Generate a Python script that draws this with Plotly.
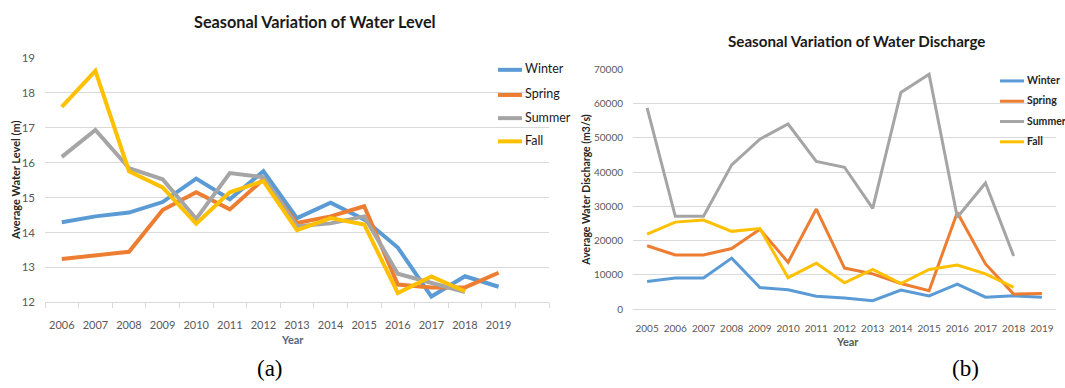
import plotly.graph_objects as go

# ---- Water level (m), by season ----
level_years = [2006, 2007, 2008, 2009, 2010, 2011, 2012, 2013, 2014, 2015, 2016, 2017, 2018, 2019]
level_winter = [14.29, 14.46, 14.57, 14.87, 15.54, 14.95, 15.75, 14.41, 14.85, 14.37, 13.57, 12.17, 12.75, 12.45]
level_spring = [13.24, 13.35, 13.45, 14.64, 15.15, 14.66, 15.52, 14.27, 14.46, 14.75, 12.51, 12.43, 12.43, 12.85]
level_summer = [16.16, 16.93, 15.84, 15.52, 14.39, 15.70, 15.58, 14.18, 14.26, 14.46, 12.82, 12.57, 12.30]
level_fall = [17.59, 18.62, 15.75, 15.29, 14.25, 15.15, 15.47, 14.07, 14.41, 14.23, 12.27, 12.74, 12.32]

# ---- Water discharge (m3/s), by season ----
discharge_years = [2005, 2006, 2007, 2008, 2009, 2010, 2011, 2012, 2013, 2014, 2015, 2016, 2017, 2018, 2019]
discharge_winter = [8100, 9100, 9100, 14900, 6300, 5700, 3800, 3300, 2500, 5600, 3900, 7300, 3500, 3900, 3500]
discharge_spring = [18500, 15800, 15800, 17700, 23300, 13700, 29200, 12000, 10300, 7500, 5400, 28200, 13200, 4400, 4600]
discharge_summer = [58700, 27100, 27100, 42100, 49600, 54000, 43100, 41400, 29400, 63200, 68500, 26800, 36800, 15500]
discharge_fall = [21900, 25400, 26000, 22700, 23500, 9200, 13400, 7700, 11600, 7500, 11600, 12900, 10300, 6400]

seasons = ["Winter", "Spring", "Summer", "Fall"]
colors = {"Winter": "#5B9BD5", "Spring": "#ED7D31", "Summer": "#A5A5A5", "Fall": "#FFC000"}

W, H = 1065, 388
GRID = "#D9D9D9"
TICK = "#595959"
SANS = "Lato, Open Sans, sans-serif"
SERIF = "Liberation Serif, Times New Roman, serif"


def px_x(x):
    return x / W


def px_y(y):
    return 1 - y / H


fig = go.Figure()

level_series = dict(zip(seasons, [level_winter, level_spring, level_summer, level_fall]))
for name in seasons:
    vals = level_series[name]
    fig.add_trace(go.Scatter(
        x=level_years[:len(vals)], y=vals, name=name, mode="lines",
        line=dict(color=colors[name], width=4),
        xaxis="x", yaxis="y", showlegend=False,
    ))

discharge_series = dict(zip(seasons, [discharge_winter, discharge_spring, discharge_summer, discharge_fall]))
for name in seasons:
    vals = discharge_series[name]
    fig.add_trace(go.Scatter(
        x=discharge_years[:len(vals)], y=vals, name=name, mode="lines",
        line=dict(color=colors[name], width=3),
        xaxis="x2", yaxis="y2", showlegend=False,
    ))

fig.update_layout(
    width=W, height=H,
    margin=dict(l=0, r=0, t=0, b=0),
    paper_bgcolor="white", plot_bgcolor="white",
    showlegend=False,
    xaxis=dict(
        domain=[px_x(45), px_x(549)], range=[2005.5, 2020.5],
        tickmode="array", tickvals=level_years, tickformat="d",
        showgrid=False, zeroline=False, showline=True, linecolor=GRID, linewidth=1,
        ticks="", ticklabelstandoff=12,
        tickfont=dict(family=SANS, size=11, color=TICK),
        minor=dict(tick0=2005.5, dtick=1, ticks="outside", ticklen=5, tickcolor=GRID, tickwidth=1, showgrid=False),
        fixedrange=True,
    ),
    yaxis=dict(
        domain=[px_y(305.7), px_y(52.3)], range=[12, 19], dtick=1,
        showgrid=True, gridcolor=GRID, gridwidth=1, zeroline=False, showline=False,
        ticks="", ticklabelstandoff=9,
        tickfont=dict(family=SANS, size=11.5, color=TICK),
        fixedrange=True,
    ),
    xaxis2=dict(
        domain=[px_x(633), px_x(1056)], range=[2004.5, 2019.5], anchor="y2",
        tickmode="array", tickvals=discharge_years, tickformat="d",
        showgrid=False, zeroline=False, showline=True, linecolor=GRID, linewidth=1,
        ticks="", ticklabelstandoff=10,
        tickfont=dict(family=SANS, size=10, color=TICK),
        fixedrange=True,
    ),
    yaxis2=dict(
        domain=[px_y(312.7), px_y(64.3)], range=[0, 70000], dtick=10000, anchor="x2",
        tickformat="d",
        showgrid=True, gridcolor=GRID, gridwidth=1, zeroline=False, showline=False,
        ticks="", ticklabelstandoff=9,
        tickfont=dict(family=SANS, size=10, color=TICK),
        fixedrange=True,
    ),
)

annotations = [
    # chart titles
    dict(text="<b>Seasonal Variation of Water Level</b>", x=px_x(315), y=px_y(15),
         font=dict(family=SANS, size=16.3, color="#1a1a1a")),
    dict(text="<b>Seasonal Variation of Water Discharge</b>", x=px_x(856), y=px_y(35),
         font=dict(family=SANS, size=15.2, color="#1a1a1a")),
    # axis titles
    dict(text="<b>Average Water Level (m)</b>", x=px_x(16), y=px_y(180), textangle=-90,
         font=dict(family=SANS, size=11, color="#262626")),
    dict(text="<b>Year</b>", x=px_x(292), y=px_y(344),
         font=dict(family=SANS, size=11, color="#56657F")),
    dict(text="<b>Average Water Discharge (m3/s)</b>", x=px_x(586), y=px_y(190), textangle=-90,
         font=dict(family=SANS, size=10.5, color="#262626")),
    dict(text="<b>Year</b>", x=px_x(847), y=px_y(346),
         font=dict(family=SANS, size=11, color="#595959")),
    # panel labels
    dict(text="(a)", x=px_x(270), y=px_y(374), font=dict(family=SERIF, size=23, color="black")),
    dict(text="(b)", x=px_x(965), y=px_y(374), font=dict(family=SERIF, size=23, color="black")),
]
for a in annotations:
    a.update(xanchor="center")

# series keys for each panel: a short coloured stroke followed by the season name
shapes = []
key_rows = {
    "a": dict(x0=498, x1=522, rows=[65, 91, 115, 139], width=4,
              font=dict(family=SANS, size=12.5, color="#1a1a1a")),
    "b": dict(x0=1000, x1=1024, rows=[76.5, 97.5, 118.5, 139.5], width=3,
              font=dict(family=SANS, size=10.5, color="#262626", weight="bold")),
}
for key in key_rows.values():
    for name, row in zip(seasons, key["rows"]):
        shapes.append(dict(type="line", xref="paper", yref="paper",
                           x0=px_x(key["x0"]), x1=px_x(key["x1"]), y0=px_y(row), y1=px_y(row),
                           line=dict(color=colors[name], width=key["width"])))
        annotations.append(dict(text=name, x=px_x(key["x1"] + 1), y=px_y(row - 1),
                                xanchor="left", font=key["font"]))

for a in annotations:
    a.update(xref="paper", yref="paper", showarrow=False, yanchor="middle")
fig.update_layout(annotations=annotations, shapes=shapes)

fig.write_html("out.html")
